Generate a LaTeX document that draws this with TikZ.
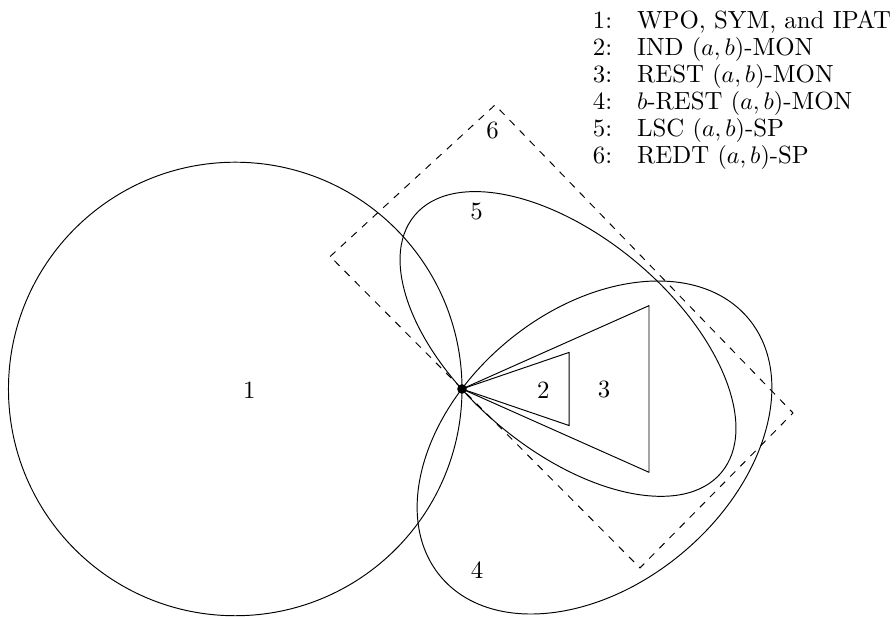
\documentclass[tikz,border=0pt]{standalone}
\usepackage{amsmath}
\usepackage{tikz}
\usetikzlibrary{positioning}
\tikzset{
  regn/.style={line width=0.4pt, draw=black},
  box6/.style={regn, dashed},
  rlbl/.style={inner sep=1pt},
  keyitem/.style={anchor=base west, inner sep=0pt},
}

\begin{document}
\begin{tikzpicture}[font=\fontsize{10.35}{12}\selectfont]
\useasboundingbox (-6.764,-3.338) rectangle (6.354,5.695);
\coordinate (o) at (0,0);

% region 1
\draw[regn] (-3.32,0) circle (3.32);

% regions 4 and 5
\draw[regn] (1.94,-0.857) circle [x radius=2.94, y radius=2.01, rotate=40];
\draw[regn] (1.552,0.659) circle [x radius=2.93, y radius=1.56, rotate=-40];

% regions 2 and 3
\coordinate (t2a) at (1.567,0.535);
\coordinate (t2b) at (1.567,-0.535);
\coordinate (t3a) at (2.738,1.22);
\coordinate (t3b) at (2.738,-1.22);
\draw[regn] (o) -- (t2a) -- (t2b) -- cycle;
\draw[regn] (o) -- (t3a) -- (t3b) -- cycle;

% region 6
\coordinate (d1) at (-1.93,1.94);
\coordinate (d2) at (0.483,4.158);
\coordinate (d3) at (4.846,-0.351);
\coordinate (d4) at (2.606,-2.62);
\draw[box6] (d1) -- (d2) -- (d3) -- (d4) -- cycle;

\fill (o) circle (2pt);

\node[rlbl] (r1) at (-3.114,-0.015) {1};
\node[rlbl] (r2) at (1.19,-0.015) {2};
\node[rlbl] (r3) at (2.08,-0.015) {3};
\node[rlbl] (r4) at (0.22,-2.65) {4};
\node[rlbl] (r5) at (0.215,2.596) {5};
\node[rlbl] (r6) at (0.449,3.782) {6};

% key
\node[keyitem] (k1) at (1.91,5.278) {1:\quad WPO, SYM, and IPAT};
\node[keyitem] (k2) at (1.91,4.883) {2:\quad IND $(a,b)$-MON};
\node[keyitem] (k3) at (1.91,4.488) {3:\quad REST $(a,b)$-MON};
\node[keyitem] (k4) at (1.91,4.092) {4:\quad $b$-REST $(a,b)$-MON};
\node[keyitem] (k5) at (1.91,3.697) {5:\quad LSC $(a,b)$-SP};
\node[keyitem] (k6) at (1.91,3.302) {6:\quad REDT $(a,b)$-SP};
\end{tikzpicture}
\end{document}
